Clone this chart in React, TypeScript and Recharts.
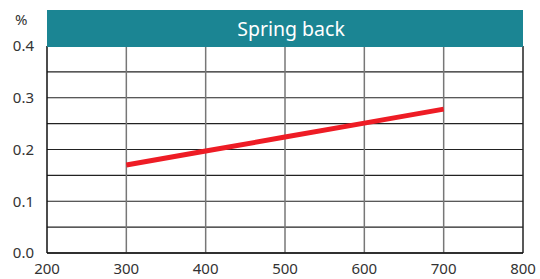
import { LineChart, Line, XAxis, YAxis, CartesianGrid, ReferenceLine } from 'recharts'

const temps = [300, 400, 500, 600, 700]
const springBack = [0.17, 0.197, 0.224, 0.251, 0.278]
const xTicks = [200, 300, 400, 500, 600, 700, 800]
const yTicks = [0.0, 0.1, 0.2, 0.3, 0.4]
const halfSteps = [0.05, 0.15, 0.25, 0.35]

const data = temps.map((t, i) => ({ t, v: springBack[i] }))

const font = '"Noto Sans", sans-serif'

export default function App() {
  return (
    <div style={{ position: 'absolute', left: 0, top: 0, width: 540, height: 279, background: '#fff', fontFamily: font }}>
      <LineChart width={540} height={279} data={data} margin={{ top: 46, right: 17, bottom: 0, left: 7 }}>
        <CartesianGrid stroke="#222" strokeWidth={1.2} vertical={false} />
        {halfSteps.map((y) => (
          <ReferenceLine key={y} y={y} stroke="#222" strokeWidth={1.2} />
        ))}
        {xTicks.slice(1, -1).map((x) => (
          <ReferenceLine key={x} x={x} stroke="#777" strokeWidth={1.5} />
        ))}
        <ReferenceLine x={800} stroke="#222" strokeWidth={1.5} />
        <XAxis
          dataKey="t"
          type="number"
          domain={[200, 800]}
          ticks={xTicks}
          height={26}
          tickSize={0}
          tickMargin={10}
          axisLine={{ stroke: '#111', strokeWidth: 1.5 }}
          tick={{ fill: '#333', fontSize: 15, fontFamily: font }}
          interval={0}
        />
        <YAxis
          type="number"
          domain={[0, 0.4]}
          ticks={yTicks}
          width={40}
          tickSize={0}
          tickMargin={13}
          axisLine={{ stroke: '#111', strokeWidth: 1.5 }}
          tick={{ fill: '#333', fontSize: 15, fontFamily: font }}
          tickFormatter={(v: number) => v.toFixed(1)}
          interval={0}
        />
        <Line
          dataKey="v"
          stroke="#ee1c25"
          strokeWidth={5}
          dot={false}
          type="linear"
          isAnimationActive={false}
        />
      </LineChart>
      <div
        style={{
          position: 'absolute',
          left: 47,
          top: 10,
          width: 476,
          height: 37,
          background: '#1b8593',
          color: '#fff',
          fontSize: 19.5,
          lineHeight: '37px',
          textAlign: 'center',
          boxSizing: 'border-box',
          paddingLeft: 12,
        }}
      >
        Spring back
      </div>
      <div style={{ position: 'absolute', left: 15, top: 9, fontSize: 15, color: '#333' }}>%</div>
    </div>
  )
}
